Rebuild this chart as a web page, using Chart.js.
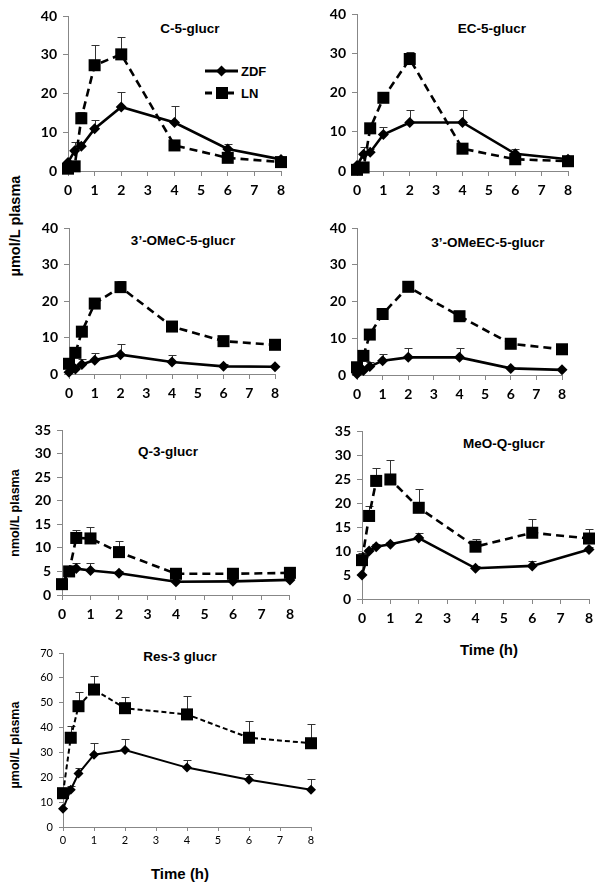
<!DOCTYPE html>
<html>
<head>
<meta charset="utf-8">
<script src="https://cdn.jsdelivr.net/npm/chart.js@4.4.1/dist/chart.umd.min.js"></script>
<style>
  body { margin:0; background:#fff; }
  #page { position:relative; width:602px; height:888px; overflow:hidden; background:#fff;
          font-family:'Liberation Sans', Arial, sans-serif; color:#000; }
  #page canvas { position:absolute; }
  .ttl { position:absolute; font-weight:bold; font-size:13.5px; white-space:nowrap; transform:translate(-50%,-50%); }
  .ytitle { position:absolute; font-weight:bold; white-space:nowrap; transform:translate(-50%,-50%) rotate(-90deg); }
  .legend { position:absolute; left:205px; top:60px; font-weight:bold; font-size:13px; }
  .legend div { display:flex; align-items:center; height:22px; }
  .legend svg { margin-right:3px; }
</style>
</head>
<body>
<div id="page">
  <div class="ttl" style="left:190px;top:28px">C-5-glucr</div>
  <div class="ttl" style="left:492px;top:28px">EC-5-glucr</div>
  <div class="ttl" style="left:183px;top:240px">3’-OMeC-5-glucr</div>
  <div class="ttl" style="left:488px;top:242px">3’-OMeEC-5-glucr</div>
  <div class="ttl" style="left:168px;top:451px">Q-3-glucr</div>
  <div class="ttl" style="left:504px;top:443px">MeO-Q-glucr</div>
  <div class="ttl" style="left:180px;top:656px">Res-3 glucr</div>

  <div class="ytitle" style="left:15px;top:226px;font-size:14.5px">µmol/L plasma</div>
  <div class="ytitle" style="left:15px;top:513px;font-size:12.5px">nmol/L plasma</div>
  <div class="ytitle" style="left:15px;top:745px;font-size:12.5px">µmol/L plasma</div>

  <div class="ttl" style="left:489px;top:649px;font-size:15px">Time (h)</div>
  <div class="ttl" style="left:180px;top:873px;font-size:15px">Time (h)</div>

  <div class="legend">
    <div><svg width="33" height="14"><line x1="0" y1="7" x2="33" y2="7" stroke="#000" stroke-width="3"/><polygon points="16.5,1.5 22,7 16.5,12.5 11,7" fill="#000"/></svg>ZDF</div>
    <div><svg width="33" height="14"><line x1="0" y1="7" x2="33" y2="7" stroke="#000" stroke-width="3" stroke-dasharray="7,4"/><rect x="11" y="1" width="12" height="12" fill="#000"/></svg>LN</div>
  </div>
</div>

<script>
// sampling times (h) and axis ticks
const times = [0, 0.25, 0.5, 1, 2, 4, 6, 8];
const timeTicks = [0, 1, 2, 3, 4, 5, 6, 7, 8];

// C-5-glucr
const c5Zdf    = [2.2, 5.2, 6.4, 10.9, 16.5, 12.5, 5.7, 3.0];
const c5ZdfSem = [0.3, 2.2, 1.2, 2.3, 4.0, 4.3, 1.2, 0.6];
const c5Ln     = [0.6, 1.2, 13.6, 27.3, 30.1, 6.6, 3.4, 2.3];
const c5LnSem  = [0.3, 0.5, 1.5, 5.2, 4.6, 1.4, 0.6, 0.4];

// EC-5-glucr
const ec5Zdf    = [1.4, 4.3, 4.8, 9.3, 12.4, 12.4, 4.4, 3.0];
const ec5ZdfSem = [0.5, 1.8, 0.9, 2.0, 3.2, 3.2, 1.2, 0.7];
const ec5Ln     = [0.3, 0.9, 10.9, 18.7, 28.6, 5.7, 3.0, 2.5];
const ec5LnSem  = [0.3, 0.3, 0.5, 0.4, 1.8, 0.5, 0.4, 0.3];

// 3'-OMeC-5-glucr
const omc5Zdf    = [0.5, 1.4, 2.6, 3.8, 5.3, 3.3, 2.1, 2.0];
const omc5ZdfSem = [0.2, 1.0, 1.4, 2.0, 2.9, 1.8, 0.6, 0.3];
const omc5Ln     = [2.8, 5.8, 11.6, 19.3, 23.8, 13.0, 9.0, 8.0];
const omc5LnSem  = [0.4, 0.5, 0.5, 0.6, 1.8, 0.6, 0.8, 0.6];

// 3'-OMeEC-5-glucr
const omec5Zdf    = [0.3, 1.2, 2.3, 3.9, 4.8, 4.8, 1.8, 1.4];
const omec5ZdfSem = [0.3, 1.0, 1.2, 1.9, 2.6, 2.6, 0.4, 0.3];
const omec5Ln     = [2.1, 5.2, 11.0, 16.6, 24.0, 16.0, 8.5, 7.0];
const omec5LnSem  = [0.4, 0.5, 0.5, 0.5, 1.6, 0.7, 0.6, 0.6];

// Q-3-glucr (nmol/L)
const q3Zdf    = [2.2, 5.1, 5.6, 5.2, 4.6, 2.8, 2.9, 3.2];
const q3ZdfSem = [0.3, 1.0, 1.2, 1.5, 0.5, 0.4, 0.4, 0.4];
const q3Ln     = [2.3, 5.0, 12.1, 12.0, 9.1, 4.5, 4.5, 4.7];
const q3LnSem  = [0.3, 0.8, 1.6, 2.5, 2.3, 0.4, 0.4, 0.4];

// MeO-Q-glucr (nmol/L)
const meoqZdf    = [5.0, 10.0, 10.9, 11.4, 12.7, 6.4, 6.9, 10.3];
const meoqZdfSem = [0.3, 0.5, 0.6, 0.5, 1.1, 0.4, 1.1, 0.5];
const meoqLn     = [8.1, 17.3, 24.6, 24.9, 19.0, 10.9, 13.8, 12.6];
const meoqLnSem  = [1.5, 2.1, 2.7, 4.0, 3.9, 1.7, 2.8, 2.0];

// Res-3 glucr
const res3Zdf    = [7.3, 15.0, 21.5, 29.1, 31.0, 23.9, 19.0, 15.0];
const res3ZdfSem = [0.5, 1.5, 2.4, 4.8, 4.4, 3.0, 2.3, 4.2];
const res3Ln     = [13.6, 35.9, 48.6, 55.3, 47.8, 45.3, 35.9, 33.7];
const res3LnSem  = [1.0, 4.8, 5.8, 5.3, 4.4, 7.4, 6.6, 7.8];

const AXIS = '#878787';

// upward SEM bars with a small cap, drawn under the markers
const errorBars = {
  id: 'errorBars',
  beforeDatasetsDraw(chart) {
    const ctx = chart.ctx, ys = chart.scales.y;
    chart.data.datasets.forEach((ds, i) => {
      if (!ds.sem) return;
      const meta = chart.getDatasetMeta(i);
      ctx.save();
      ctx.strokeStyle = '#333';
      ctx.lineWidth = 1;
      meta.data.forEach((pt, j) => {
        const top = Math.round(ys.getPixelForValue(ds.data[j].y + ds.sem[j])) + 0.5;
        const x = Math.round(pt.x) + 0.5;
        ctx.beginPath();
        ctx.moveTo(x, pt.y); ctx.lineTo(x, top);
        ctx.moveTo(x - 4, top); ctx.lineTo(x + 4, top);
        ctx.stroke();
      });
      ctx.restore();
    });
  }
};

function pts(vals) { return times.map((t, i) => ({ x: t, y: vals[i] })); }

function panel(box, area, yMax, yStep, zdf, zdfSem, ln, lnSem, small) {
  const cv = document.createElement('canvas');
  cv.width = box[2]; cv.height = box[3];
  cv.style.left = box[0] + 'px'; cv.style.top = box[1] + 'px';
  document.getElementById('page').appendChild(cv);

  const tickFont = small
    ? { family: 'Lato, sans-serif', size: 11, weight: 'normal' }
    : { family: 'Lato, sans-serif', size: 14, weight: 'bold' };
  const yW = area[0] - box[0];
  const xH = box[1] + box[3] - area[3];

  const axisCommon = {
    grid: { drawOnChartArea: false, drawTicks: true, tickLength: small ? 4 : 5, color: AXIS, lineWidth: 1 },
    border: { display: true, color: AXIS, width: 1 }
  };

  new Chart(cv, {
    type: 'line',
    data: {
      datasets: [
        { label: 'ZDF', data: pts(zdf), sem: zdfSem, borderColor: '#000', backgroundColor: '#000',
          borderWidth: small ? 2 : 2.6, pointStyle: 'rectRot', pointRadius: small ? 5 : 5.5,
          pointBorderWidth: 0, clip: false, tension: 0 },
        { label: 'LN', data: pts(ln), sem: lnSem, borderColor: '#000', backgroundColor: '#000',
          borderWidth: small ? 2 : 2.6, borderDash: small ? [5, 3] : [8, 5], pointStyle: 'rect',
          pointRadius: small ? 8.5 : 8.5, pointBorderWidth: 0, clip: false, tension: 0 }
      ]
    },
    options: {
      responsive: false,
      animation: false,
      devicePixelRatio: 1,
      layout: { padding: { left: 0, top: area[2] - box[1], right: box[0] + box[2] - area[1], bottom: 0 } },
      plugins: { legend: { display: false }, tooltip: { enabled: false } },
      scales: {
        x: Object.assign({
          type: 'linear', min: 0, max: 8,
          afterBuildTicks: s => { s.ticks = timeTicks.map(v => ({ value: v })); },
          afterFit: s => { s.height = xH; },
          ticks: { color: '#000', font: tickFont, padding: small ? 3 : 6, maxRotation: 0, autoSkip: false }
        }, axisCommon),
        y: Object.assign({
          type: 'linear', min: 0, max: yMax,
          afterFit: s => { s.width = yW; },
          ticks: { stepSize: yStep, color: '#000', font: tickFont, padding: 6 }
        }, axisCommon)
      }
    },
    plugins: [errorBars]
  });
}

// canvas box [left, top, w, h], chart area [left, right, top, bottom] in page px
panel([0, 0, 300, 205],   [68, 281, 16, 171],   40, 10, c5Zdf, c5ZdfSem, c5Ln, c5LnSem);
panel([300, 0, 302, 205], [357, 568, 13, 171],  40, 10, ec5Zdf, ec5ZdfSem, ec5Ln, ec5LnSem);
panel([0, 205, 300, 205], [69, 275, 228, 374],  40, 10, omc5Zdf, omc5ZdfSem, omc5Ln, omc5LnSem);
panel([300, 205, 302, 205], [357, 562, 228, 375], 40, 10, omec5Zdf, omec5ZdfSem, omec5Ln, omec5LnSem);
panel([0, 410, 300, 225], [62, 293, 430, 595],  35, 5, q3Zdf, q3ZdfSem, q3Ln, q3LnSem);
panel([300, 410, 302, 225], [362, 589, 431, 599], 35, 5, meoqZdf, meoqZdfSem, meoqLn, meoqLnSem);
panel([0, 635, 330, 230], [63, 311, 653, 827],  70, 10, res3Zdf, res3ZdfSem, res3Ln, res3LnSem, true);
</script>
</body>
</html>
